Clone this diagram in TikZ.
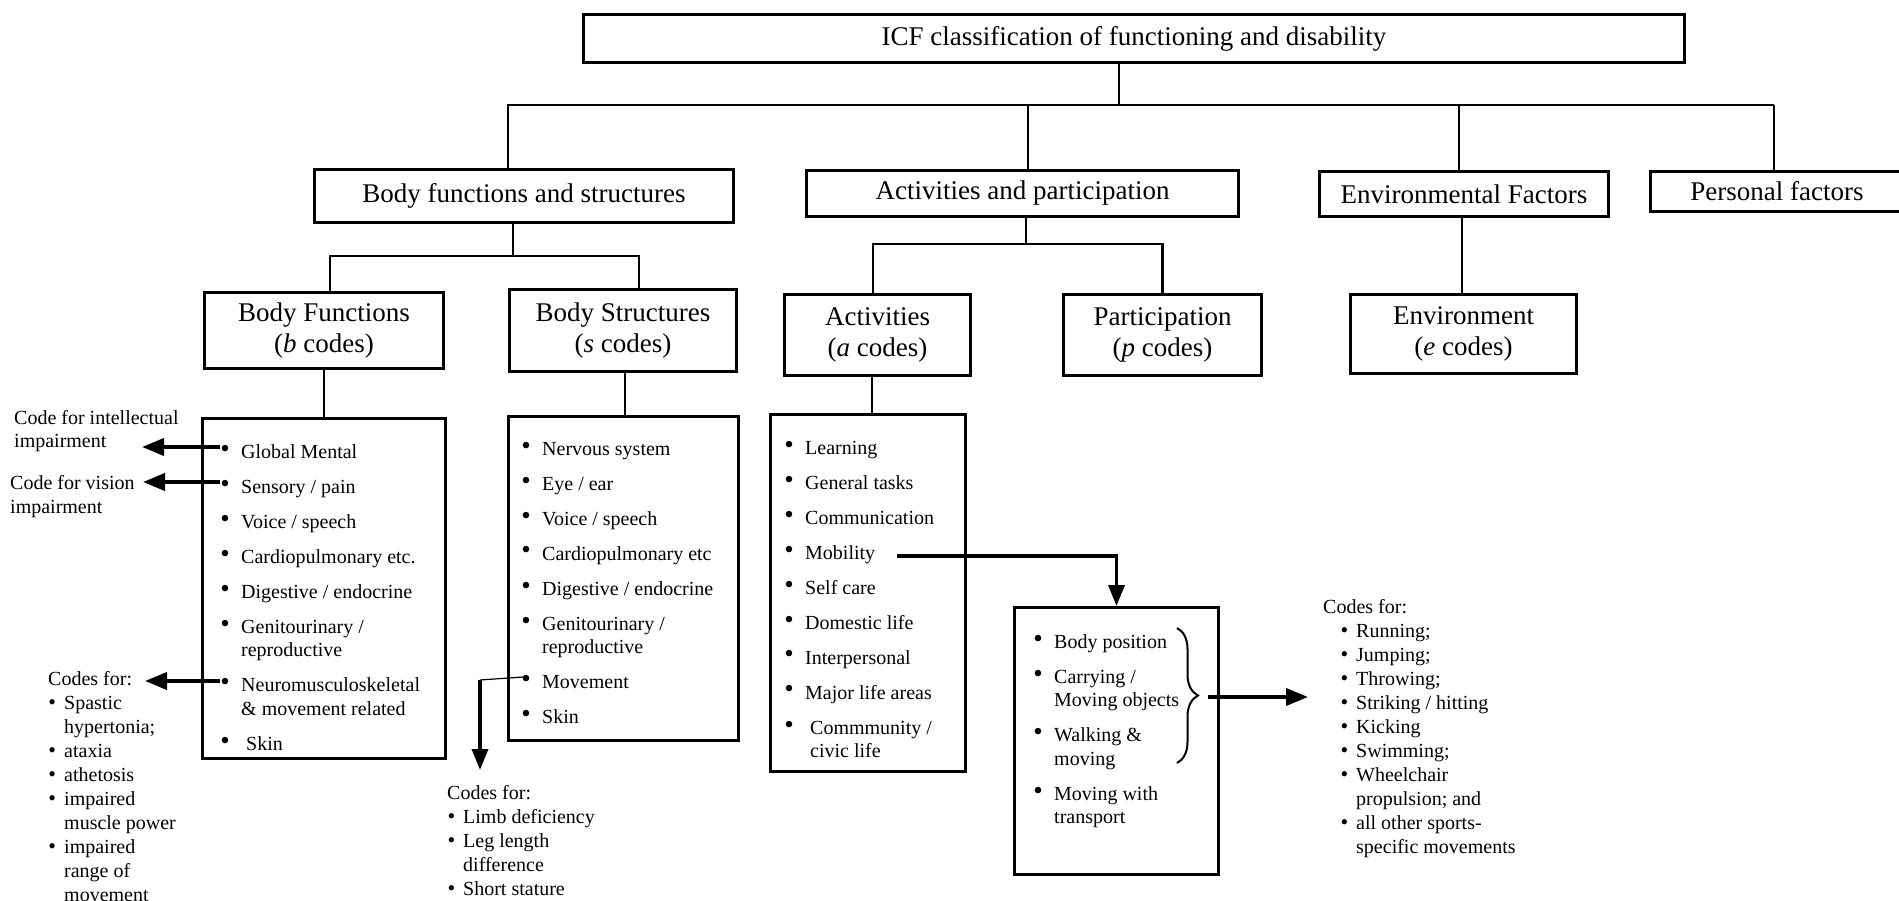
\documentclass[tikz,border=0pt]{standalone}
\usepackage{fontspec}
\setmainfont{Liberation Serif}
\usetikzlibrary{arrows.meta,decorations.pathreplacing}
\newcommand\ibul{\leavevmode\llap{\raisebox{1pt}{\scalebox{1.35}{\textbullet}}\hspace{11.5pt}}}
\newcommand\cbul{\leavevmode\llap{\scalebox{1.1}{\textbullet}\hspace{8pt}}}
\begin{document}
\begin{tikzpicture}[x=1pt,y=-1pt,
  box/.style={draw,line width=3pt,rectangle,inner sep=0pt,align=center,font=\fontsize{27}{31}\selectfont},
  lbox/.style={draw,line width=3pt,rectangle,inner sep=0pt},
  conn/.style={line width=2.4pt},
  thinline/.style={line width=1.6pt},
  arr/.style={line width=4pt,-{Triangle[length=22pt,width=17pt]}},
  arrb/.style={line width=3.5pt,-{Triangle[length=21pt,width=16pt]}},
  lst/.style={anchor=base west,inner sep=0pt,font=\fontsize{20}{23.5}\selectfont},
  cds/.style={anchor=base west,inner sep=0pt,font=\fontsize{20}{24}\selectfont},
]
\useasboundingbox[fill=white] (0,0) rectangle (1899,901);

% level 1 and 2
\node[box,minimum width=1101,minimum height=48] (top) at (1134,38.5) {ICF classification of functioning and disability};
\node[box,minimum width=419,minimum height=53] (bfs) at (524,196) {Body functions and structures};
\node[box,minimum width=432,minimum height=46] (ap) at (1022.5,193.5) {Activities and participation};
\node[box,minimum width=289,minimum height=45] (ef) at (1464,194) {Environmental Factors};
\node[box,minimum width=253,minimum height=40] (pf) at (1777,191.5) {Personal factors};

% level 3
\node[box,minimum width=239,minimum height=76] (bf) at (324,330.5) {Body Functions\\(\textit{b} codes)};
\node[box,minimum width=227,minimum height=82] (bs) at (623,330.5) {Body Structures\\(\textit{s} codes)};
\node[box,minimum width=186,minimum height=81] (act) at (877.5,335) {Activities\\(\textit{a} codes)};
\node[box,minimum width=198,minimum height=81] (par) at (1162.5,335) {Participation\\(\textit{p} codes)};
\node[box,minimum width=226,minimum height=79] (env) at (1463.5,334) {Environment\\(\textit{e} codes)};

% list boxes
\node[lbox,minimum width=243,minimum height=340] (bflist) at (324,588.5) {};
\node[lbox,minimum width=230,minimum height=324] (bslist) at (623.5,578.5) {};
\node[lbox,minimum width=195,minimum height=357] (alist) at (868,593) {};
\node[lbox,minimum width=204,minimum height=267] (mob) at (1116.5,741) {};

% list texts
\node[lst] (bftext) at (241,458) {\begin{tabular}[t]{@{}l@{}}
\ibul Global Mental\\[11.5pt]
\ibul Sensory / pain\\[11.5pt]
\ibul Voice / speech\\[11.5pt]
\ibul Cardiopulmonary etc.\\[11.5pt]
\ibul Digestive / endocrine\\[11.5pt]
\ibul Genitourinary /\\
reproductive\\[11.5pt]
\ibul Neuromusculoskeletal\\
\& movement related\\[11.5pt]
\ibul\hspace*{5pt}Skin
\end{tabular}};

\node[lst] (bstext) at (542,455) {\begin{tabular}[t]{@{}l@{}}
\ibul Nervous system\\[11.5pt]
\ibul Eye / ear\\[11.5pt]
\ibul Voice / speech\\[11.5pt]
\ibul Cardiopulmonary etc\\[11.5pt]
\ibul Digestive / endocrine\\[11.5pt]
\ibul Genitourinary /\\
reproductive\\[11.5pt]
\ibul Movement\\[11.5pt]
\ibul Skin
\end{tabular}};

\node[lst] (atext) at (805,454) {\begin{tabular}[t]{@{}l@{}}
\ibul Learning\\[11.5pt]
\ibul General tasks\\[11.5pt]
\ibul Communication\\[11.5pt]
\ibul Mobility\\[11.5pt]
\ibul Self care\\[11.5pt]
\ibul Domestic life\\[11.5pt]
\ibul Interpersonal\\[11.5pt]
\ibul Major life areas\\[11.5pt]
\ibul\hspace*{5pt}Commmunity /\\
\hspace*{5pt}civic life
\end{tabular}};

\node[lst] (mobtext) at (1054,648) {\begin{tabular}[t]{@{}l@{}}
\ibul Body position\\[11.5pt]
\ibul Carrying /\\
Moving objects\\[11.5pt]
\ibul Walking \&\\
moving\\[11.5pt]
\ibul Moving with\\
transport
\end{tabular}};

% side labels
\node[cds] (intel) at (14,424) {\begin{tabular}[t]{@{}l@{}}Code for intellectual\\impairment\end{tabular}};
\node[cds] (vision) at (10,489) {\begin{tabular}[t]{@{}l@{}}Code for vision\\impairment\end{tabular}};

\node[cds] (lcodes) at (48,685) {\begin{tabular}[t]{@{}l@{}}
Codes for:\\
\hspace*{16pt}\cbul Spastic\\
\hspace*{16pt}hypertonia;\\
\hspace*{16pt}\cbul ataxia\\
\hspace*{16pt}\cbul athetosis\\
\hspace*{16pt}\cbul impaired\\
\hspace*{16pt}muscle power\\
\hspace*{16pt}\cbul impaired\\
\hspace*{16pt}range of\\
\hspace*{16pt}movement
\end{tabular}};

\node[cds] (scodes) at (447,799) {\begin{tabular}[t]{@{}l@{}}
Codes for:\\
\hspace*{16pt}\cbul Limb deficiency\\
\hspace*{16pt}\cbul Leg length\\
\hspace*{16pt}difference\\
\hspace*{16pt}\cbul Short stature
\end{tabular}};

\node[cds] (rcodes) at (1323,613) {\begin{tabular}[t]{@{}l@{}}
Codes for:\\
\hspace*{33pt}\cbul Running;\\
\hspace*{33pt}\cbul Jumping;\\
\hspace*{33pt}\cbul Throwing;\\
\hspace*{33pt}\cbul Striking / hitting\\
\hspace*{33pt}\cbul Kicking\\
\hspace*{33pt}\cbul Swimming;\\
\hspace*{33pt}\cbul Wheelchair\\
\hspace*{33pt}propulsion; and\\
\hspace*{33pt}\cbul all other sports-\\
\hspace*{33pt}specific movements
\end{tabular}};

% tree connectors
\coordinate (j1) at (1119,105);
\draw[conn] (top.south -| j1) -- (j1);
\draw[conn] ([xshift=-16pt]bfs.north) |- ([xshift=-3pt]pf.north |- j1);
\draw[conn] ([xshift=5.5pt]ap.north) -- ([xshift=5.5pt]ap.north |- j1);
\draw[conn] ([xshift=-5pt]ef.north) -- ([xshift=-5pt]ef.north |- j1);
\draw[conn] ([xshift=-3pt]pf.north) -- ([xshift=-3pt]pf.north |- j1);

\coordinate (j2) at (513,256);
\draw[conn] ([xshift=-11pt]bfs.south) -- ([xshift=-11pt]bfs.south |- j2);
\draw[conn] ([xshift=6pt]bf.north) |- ([xshift=16pt]bs.north |- j2) -- ([xshift=16pt]bs.north);

\coordinate (j3) at (1026,244);
\draw[conn] ([xshift=3.5pt]ap.south) -- ([xshift=3.5pt]ap.south |- j3);
\draw[conn] ([xshift=-4.5pt]act.north) |- (par.north |- j3) -- (par.north);

\draw[thinline] ([xshift=-2pt]ef.south) -- ([xshift=-2pt]ef.south |- env.north);

\draw[conn] (bf.south) -- (bflist.north);
\draw[conn] ([xshift=2pt]bs.south) -- ([xshift=2pt]bs.south |- bslist.north);
\draw[conn] ([xshift=-5.5pt]act.south) -- ([xshift=-5.5pt]act.south |- alist.north);

% arrows from body functions list
\coordinate (gm) at (220,447);
\coordinate (sp) at (220,482);
\coordinate (nm) at (220,681);
\draw[arr] (gm) -- ++(-78,0);
\draw[arr] (sp) -- ++(-77,0);
\draw[arr] (nm) -- ++(-75,0);

% movement arrow
\coordinate (mv1) at (523,677);
\coordinate (mv2) at (480,680);
\draw[line width=1.2pt] (mv1) -- (mv2);
\draw[arrb] (mv2) -- (mv2 |- 0,770);

% mobility arrow
\coordinate (mobs) at (897,556);
\draw[arrb] (mobs) -| (mob.north);

% brace and arrow
\coordinate (br1) at (1177,628);
\coordinate (br2) at (1177,763);
\draw[line width=2pt,decorate,decoration={brace,amplitude=21pt}] (br1) -- (br2);
\coordinate (bra) at (1208,697);
\draw[arr] (bra) -- ([xshift=-15pt]rcodes.west |- bra);
\end{tikzpicture}
\end{document}
